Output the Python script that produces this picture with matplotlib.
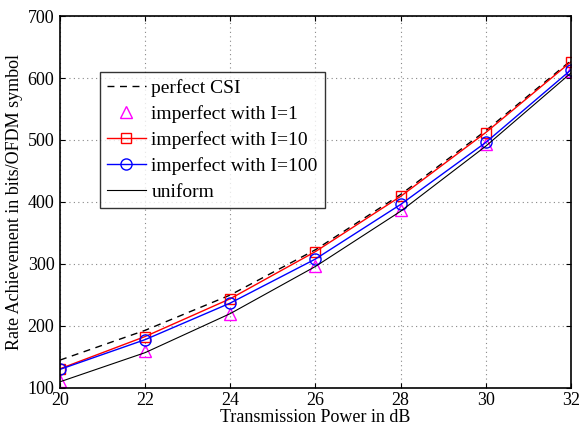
import matplotlib
matplotlib.use("Agg")
import matplotlib.pyplot as plt

power = [20, 22, 24, 26, 28, 30, 32]
perfect = [145, 193, 250, 323, 412, 515, 628]
imp1 = [112, 160, 220, 296, 387, 493, 612]
imp10 = [131, 183, 244, 320, 409, 512, 626]
imp100 = [130, 178, 237, 308, 396, 496, 613]
uniform = [110, 157, 220, 296, 385, 490, 608]

plt.rcParams['font.family'] = ['Liberation Serif', 'DejaVu Serif']
plt.rcParams['mathtext.fontset'] = 'stix'

fig = plt.figure(figsize=(5.79, 4.28), dpi=100)
ax = fig.add_axes([0.1036, 0.0935, 0.8824, 0.8691])

ax.plot(power, perfect, 'k--', lw=1.0, dashes=(5, 4), label='perfect CSI')
ax.plot(power, imp1, linestyle='none', marker='^', mfc='none', mec='magenta', ms=8, mew=1.0, label='imperfect with I=1')
ax.plot(power, imp10, color='red', lw=1.0, marker='s', mfc='none', mec='red', ms=7, label='imperfect with I=10')
ax.plot(power, imp100, color='blue', lw=1.0, marker='o', mfc='none', mec='blue', ms=8, label='imperfect with I=100')
ax.plot(power, uniform, color='black', lw=0.8, label='uniform')

ax.set_xlim(20, 32)
ax.set_ylim(100, 700)
ax.set_xticks(range(20, 33, 2))
ax.set_yticks(range(100, 701, 100))
ax.grid(True, linestyle=(0, (1, 3)), color='#888888', lw=0.8)
ax.tick_params(direction='in', top=True, right=True, labelsize=13)
ax.tick_params(axis='x', pad=3)
ax.tick_params(axis='y', pad=4)
for s in ax.spines.values():
    s.set_linewidth(1.2)

ax.set_xlabel('Transmission Power in dB', fontsize=13, labelpad=0)
ax.set_ylabel('Rate Achievement in bits/OFDM symbol', fontsize=13, labelpad=3)

leg = ax.legend(loc='upper left', bbox_to_anchor=(0.078, 0.849), fontsize=14, frameon=True,
                fancybox=False, edgecolor='black', borderpad=0.35, labelspacing=0.42,
                handlelength=2.0, handletextpad=0.3, borderaxespad=0)
leg.get_frame().set_linewidth(1.0)

fig.savefig('out.png', dpi=100)
